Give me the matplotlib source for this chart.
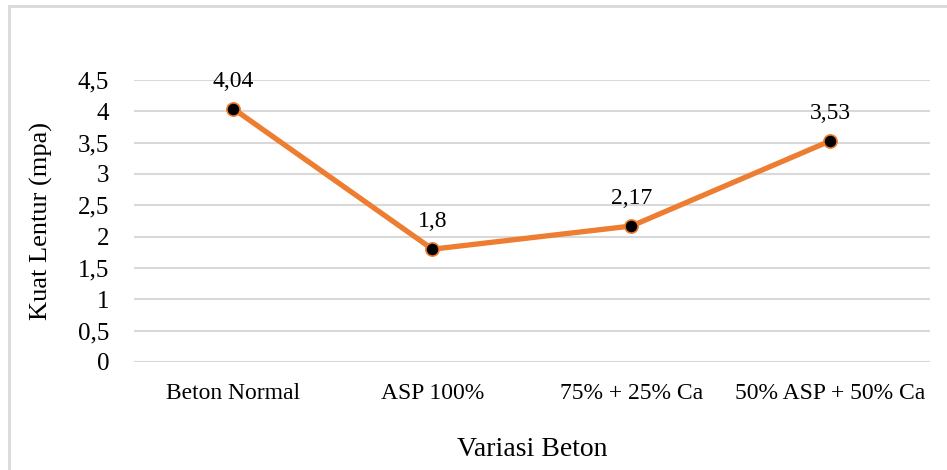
import matplotlib.pyplot as plt
from matplotlib.patches import Rectangle

# values
categories = ['Beton Normal', 'ASP 100%', '75% + 25% Ca', '50% ASP + 50% Ca']
kuat_lentur = [4.04, 1.8, 2.17, 3.53]
point_labels = ['4,04', '1,8', '2,17', '3,53']
y_ticks = [0, 0.5, 1, 1.5, 2, 2.5, 3, 3.5, 4, 4.5]
y_tick_labels = ['0', '0,5', '1', '1,5', '2', '2,5', '3', '3,5', '4', '4,5']

plt.rcParams['font.family'] = ['Liberation Serif', 'DejaVu Serif']

fig = plt.figure(figsize=(9.47, 4.70), dpi=100)
ax = fig.add_axes([0.1415, 0.2298, 0.8405, 0.6])

# light grey frame around the chart area (top/left edges visible)
fig.patches.append(Rectangle((8.5 / 947, -0.05), 1.2, 1.05 - 6.5 / 470,
                             transform=fig.transFigure, fill=False,
                             edgecolor='#D9D9D9', linewidth=2))

x = range(len(categories))
ax.plot(x, kuat_lentur, color='#ED7D31', linewidth=3.8, marker='o',
        markersize=9.5, markerfacecolor='black', markeredgecolor='#ED7D31',
        markeredgewidth=1.2, zorder=3)

for xi, yi, lab in zip(x, kuat_lentur, point_labels):
    ax.annotate(lab, (xi, yi), xytext=(0, 20), textcoords='offset points',
                ha='center', va='center', fontsize=17)

ax.set_xlim(-0.5, len(categories) - 0.5)
ax.set_ylim(0, 4.5)
ax.set_yticks(y_ticks)
ax.set_yticklabels(y_tick_labels)
ax.set_xticks(list(x))
ax.set_xticklabels(categories)
ax.tick_params(axis='y', length=0, pad=18, labelsize=18)
ax.tick_params(axis='x', length=0, pad=15, labelsize=17)

ax.grid(axis='y', color='#D9D9D9', linewidth=1.5)
ax.set_axisbelow(True)
for s in ax.spines.values():
    s.set_visible(False)

ax.set_xlabel('Variasi Beton', fontsize=20, labelpad=24)
ax.set_ylabel('Kuat Lentur (mpa)', fontsize=19, labelpad=18)

fig.savefig('out.png', dpi=100)
